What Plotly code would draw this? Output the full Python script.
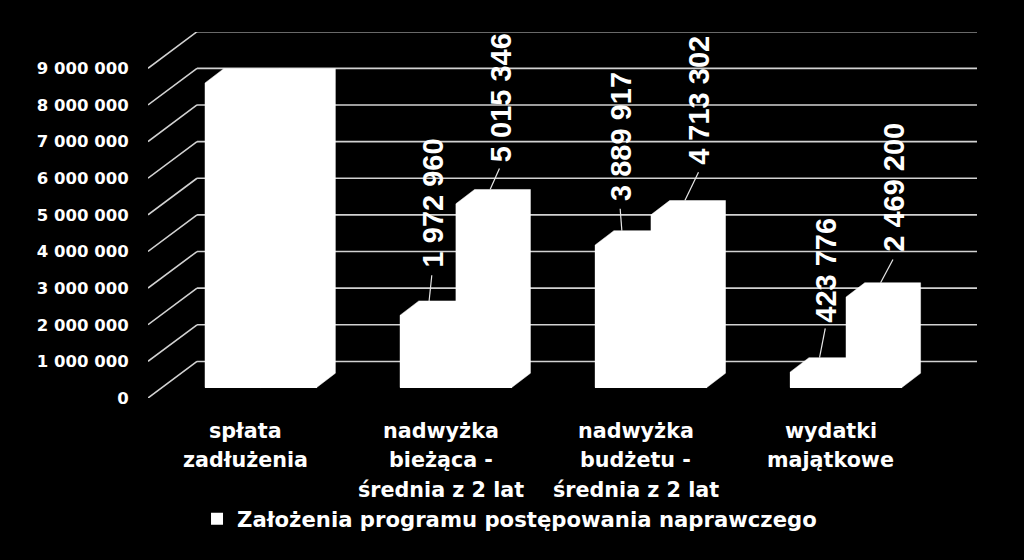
import plotly.graph_objects as go

# ---- data ----
category_lines = [
    ["spłata", "zadłużenia"],
    ["nadwyżka", "bieżąca -", "średnia z 2 lat"],
    ["nadwyżka", "budżetu -", "średnia z 2 lat"],
    ["wydatki", "majątkowe"],
]
series_a = [8312000, 1972960, 3889917, 423776]
series_b = [8312000, 5015346, 4713302, 2469200]
series_name = "Założenia programu postępowania naprawczego"
y_ticks = [0, 1000000, 2000000, 3000000, 4000000, 5000000, 6000000, 7000000, 8000000, 9000000]
y_tick_labels = ["0", "1 000 000", "2 000 000", "3 000 000", "4 000 000",
                 "5 000 000", "6 000 000", "7 000 000", "8 000 000", "9 000 000"]

# ---- layout geometry (pixels) ----
W, H = 1024, 560
L, R, T, B = 148, 47.3, 31.7, 162
PX_PER_CAT = 195.0
PX_PER_VAL = 330.0 / 9000000
n_cat = len(category_lines)
PLOT_W, PLOT_H = W - L - R, H - T - B


def ux(px):
    return px / PX_PER_CAT


def uy(px):
    return px / PX_PER_VAL


def paper_x(px):
    return (px - L) / PLOT_W


def paper_y(px):
    return 1 - (px - T) / PLOT_H


x_range = [0, ux(PLOT_W)]
y_range = [0, uy(PLOT_H)]

wall_dx, wall_dy = ux(49), uy(36.6)
depth_dx, depth_dy = ux(18.7), uy(14.3)
inset_dx, inset_dy = ux(15.3), uy(10.5)
bar_w = ux(55.8)

fig = go.Figure()

# floor + back wall gridlines
shapes = []
grid = dict(color="#d2d2d2", width=1.6)
for v in y_ticks:
    shapes.append(dict(type="line", xref="x", yref="y", layer="below", line=grid,
                       x0=0, y0=v, x1=wall_dx, y1=v + wall_dy))
    shapes.append(dict(type="line", xref="x", yref="y", layer="below", line=grid,
                       x0=wall_dx, y0=v + wall_dy, x1=n_cat + wall_dx, y1=v + wall_dy))

# front faces
centers = [i + 0.5 + inset_dx for i in range(n_cat)]
for k, vals in enumerate([series_a, series_b]):
    fig.add_trace(go.Bar(
        x=[c + (k - 0.5) * bar_w for c in centers], y=vals, base=inset_dy,
        width=bar_w, marker=dict(color="#ffffff", line=dict(width=0)),
        name=series_name, showlegend=k == 0, hoverinfo="skip"))

# solid block outline (front, top and side faces)
for k, vals in enumerate([series_a, series_b]):
    for c, v in zip(centers, vals):
        x0 = c + (k - 1) * bar_w
        x1 = x0 + bar_w
        y0, y1 = inset_dy, inset_dy + v
        fig.add_trace(go.Scatter(
            x=[x0, x0, x0 + depth_dx, x1 + depth_dx, x1 + depth_dx, x1, x0],
            y=[y0, y1, y1 + depth_dy, y1 + depth_dy, y0 + depth_dy, y0, y0],
            mode="lines", fill="toself", fillcolor="#ffffff",
            line=dict(color="#ffffff", width=0.5),
            showlegend=False, hoverinfo="skip"))

# value labels and leader lines: (series, category, leader start dx, leader end dx, end dy, label dx, label dy) in px
label_layout = [
    (0, 1, 10.3, 13.0, 25.7, 14.3, 97.7),
    (1, 1, 15.5, 24.8, 21.0, 26.0, 92.0),
    (0, 2, 8.0, 6.3, 22.0, 7.3, 94.0),
    (1, 2, 15.2, 28.8, 28.3, 28.5, 100.0),
    (0, 3, 10.6, 16.3, 29.3, 17.3, 87.3),
    (1, 3, 15.8, 28.2, 23.3, 28.5, 95.3),
]
annotations = []
for k, i, lx0, lx1, ly1, tx, ty in label_layout:
    v = [series_a, series_b][k][i]
    left = centers[i] + (k - 1) * bar_w + depth_dx
    top = inset_dy + depth_dy + v
    fig.add_trace(go.Scatter(
        x=[left + ux(lx0), left + ux(lx1)], y=[top, top + uy(ly1)],
        mode="lines", line=dict(color="#e8e8e8", width=1.2),
        showlegend=False, hoverinfo="skip"))
    annotations.append(dict(
        x=left + ux(tx), y=top + uy(ty), xref="x", yref="y", showarrow=False,
        text=f"{v:,}".replace(",", " "), textangle=-90, xanchor="center", yanchor="middle",
        font=dict(family="Liberation Sans", size=29, color="#ffffff", weight="bold")))

# category labels, line by line
line_y = [431, 460, 490]
for i, lines in enumerate(category_lines):
    for j, t in enumerate(lines):
        annotations.append(dict(
            x=i + 0.5, y=paper_y(line_y[j]), xref="x", yref="paper", showarrow=False,
            text=t, xanchor="center", yanchor="middle",
            font=dict(family="DejaVu Sans", size=20.7, color="#ffffff", weight="bold")))

fig.update_layout(
    width=W, height=H, autosize=False,
    paper_bgcolor="#000000", plot_bgcolor="#000000",
    margin=dict(l=L, r=R, t=T, b=B, pad=0),
    barmode="overlay", bargap=0,
    shapes=shapes, annotations=annotations,
    showlegend=True,
    legend=dict(x=paper_x(197), y=paper_y(519), xanchor="left", yanchor="middle",
                bgcolor="rgba(0,0,0,0)", itemclick=False,
                font=dict(family="DejaVu Sans", size=21.2, color="#ffffff", weight="bold")),
    xaxis=dict(range=x_range, showgrid=False, zeroline=False, showline=False,
               showticklabels=False, ticks="", fixedrange=True),
    yaxis=dict(range=y_range, showgrid=False, zeroline=False, showline=False,
               tickmode="array", tickvals=y_ticks, ticktext=y_tick_labels,
               ticks="outside", ticklen=15, tickcolor="#000000", fixedrange=True,
               tickfont=dict(family="DejaVu Sans", size=16.5, color="#ffffff", weight="bold")),
)

fig.write_html("out.html", config={"displayModeBar": False},
               post_script="document.body.style.margin='0';document.body.style.background='#000';")
